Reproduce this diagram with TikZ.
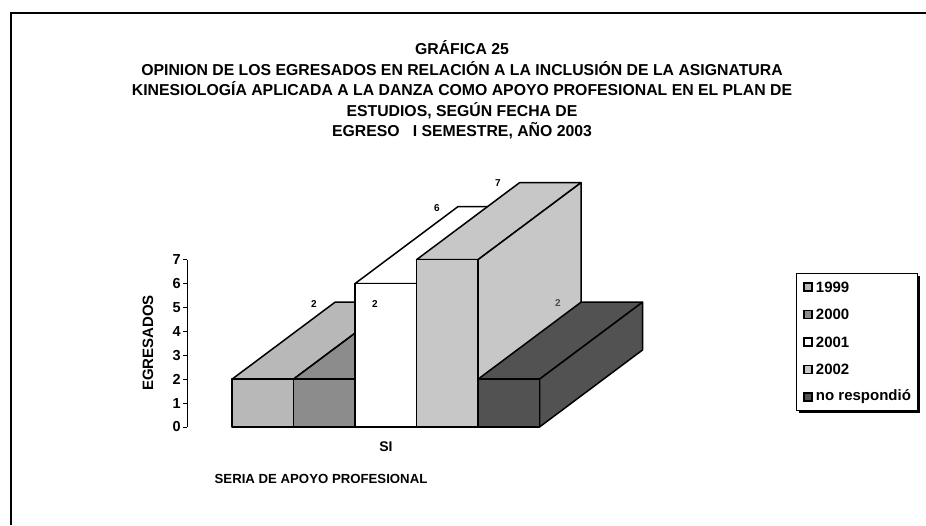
\documentclass[tikz,border=0pt]{standalone}
\usepackage{fontspec}
\setmainfont{Liberation Sans}
\usetikzlibrary{positioning}
\definecolor{c1999}{gray}{0.72}
\definecolor{c2000}{gray}{0.55}
\definecolor{c2001}{gray}{1}
\definecolor{c2002}{gray}{0.78}
\definecolor{cnr}{gray}{0.32}
\tikzstyle{every node}=[inner sep=0pt]
\tikzstyle{face} = [draw=black,line width=1.5pt,line join=round]
\tikzstyle{titletext} = [align=center,font=\fontsize{15.8}{20.5}\selectfont\bfseries]
\tikzstyle{valuelabel} = [font=\fontsize{10}{12}\selectfont\bfseries]
\tikzstyle{ticklabel} = [anchor=east,font=\fontsize{14.5}{16}\selectfont\bfseries]
\tikzstyle{axistitle} = [font=\fontsize{15}{18}\selectfont\bfseries]
\tikzstyle{swatch} = [draw=black,line width=1.5pt,minimum size=8pt]
\tikzstyle{legendtext} = [anchor=west,font=\fontsize{15}{18}\selectfont\bfseries]
% one 3d box: left x, right x, top y, fill
\newcommand{\chartbox}[4]{%
\filldraw[face,fill=#4] (#1,#3) -- (#2,#3) -- ({#2+103},{#3-77}) -- ({#1+103},{#3-77}) -- cycle;
\filldraw[face,fill=#4] (#2,#3) -- ({#2+103},{#3-77}) -- ({#2+103},350) -- (#2,427) -- cycle;
\filldraw[face,fill=#4] (#1,#3) rectangle (#2,427);}
\begin{document}
\begin{tikzpicture}[x=1pt,y=-1pt]
\useasboundingbox (0,0) rectangle (926,525);
\draw[line width=1.3pt] (926,13) -- (11,13) -- (11,525);

\node (title) [titletext] at (462,90) {GRÁFICA 25\\OPINION DE LOS EGRESADOS EN RELACIÓN A LA INCLUSIÓN DE LA ASIGNATURA\\KINESIOLOGÍA APLICADA A LA DANZA COMO APOYO PROFESIONAL EN EL PLAN DE\\ESTUDIOS, SEGÚN FECHA DE\\EGRESO~~~I SEMESTRE, AÑO 2003};

% y axis
\draw[line width=0.8pt] (187,259.7) -- (187,427);
\foreach \v in {0,...,7}
  \draw[line width=0.8pt] (183,{427-23.9*\v}) -- (187,{427-23.9*\v}) node (tick\v) [ticklabel,xshift=-6pt] {\v};
\node (ytitle) [axistitle,rotate=90] at (148,343) {EGRESADOS};

% boxes
\chartbox{232}{293.5}{379.2}{c1999}
\chartbox{293.5}{355}{379.2}{c2000}
\chartbox{355}{416.5}{283.6}{c2001}
\chartbox{416.5}{478}{259.7}{c2002}
\chartbox{478}{539.5}{379.2}{cnr}

\node (v1999) [valuelabel] at (314,304) {2};
\node (v2000) [valuelabel] at (375,304) {2};
\node (v2001) [valuelabel] at (437,208) {6};
\node (v2002) [valuelabel] at (498,183) {7};
\node (vnr) [valuelabel,text=black!70] at (558,303) {2};

\node (si) [font=\fontsize{14}{16}\selectfont\bfseries] at (386,447) {SI};
\node (xtitle) [font=\fontsize{13.2}{15}\selectfont\bfseries] at (321,479) {SERIA DE APOYO PROFESIONAL};

% legend
\fill (799,410) rectangle (919.5,413);
\fill (917,276) rectangle (919.5,413);
\draw[line width=0.8pt,fill=white] (796,273) rectangle (917,410);
\node (s1999) [swatch,fill=c1999] at (808,287) {};
\node (s2000) [swatch,fill=c2000,below=18pt of s1999] {};
\node (s2001) [swatch,fill=c2001,below=18pt of s2000] {};
\node (s2002) [swatch,fill=c2002,below=18pt of s2001] {};
\node (snr) [swatch,fill=cnr,below=18pt of s2002] {};
\node (l1999) [legendtext,right=3pt of s1999] {1999};
\node (l2000) [legendtext,right=3pt of s2000] {2000};
\node (l2001) [legendtext,right=3pt of s2001] {2001};
\node (l2002) [legendtext,right=3pt of s2002] {2002};
\node (lnr) [legendtext,right=3pt of snr] {no respondió};
\end{tikzpicture}
\end{document}
